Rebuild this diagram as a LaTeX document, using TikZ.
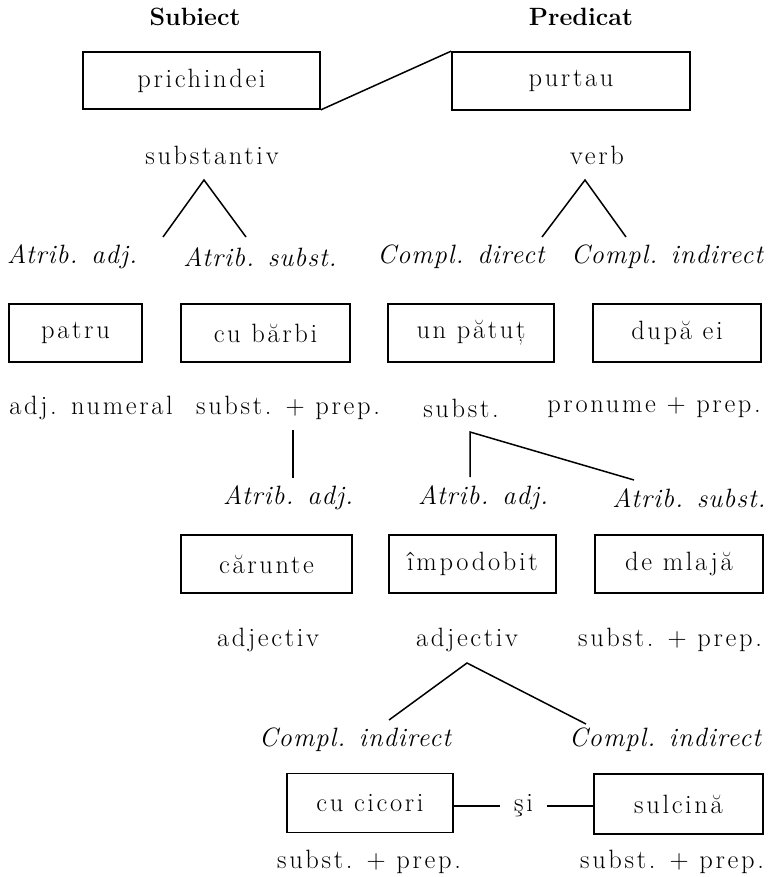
\documentclass[tikz,border=0pt]{standalone}
\usepackage{fontspec}
\setmainfont{Latin Modern Roman}[LetterSpace=10, ItalicFeatures={LetterSpace=4}, BoldFeatures={LetterSpace=0}]
\begin{document}
\begin{tikzpicture}[x=1pt,y=-1pt,
  font=\fontsize{26.5}{30}\selectfont,
  box/.style={draw, line width=1.7pt, inner sep=0pt},
  lbl/.style={inner sep=0pt},
  itl/.style={inner sep=0pt, font=\fontsize{26.5}{30}\selectfont\itshape},
  ttl/.style={inner sep=0pt, font=\fontsize{25}{29}\selectfont\bfseries},
  conn/.style={line width=1.5pt}]
\useasboundingbox (0,0) rectangle (772,877);

% titles
\node[ttl] (sub) at (195,17) {Subiect};
\node[ttl] (pred) at (581,17) {Predicat};

% level 1
\node[box, minimum width=237pt, minimum height=57pt] (prich) at (201.5,80.5) {prichindei};
\node[box, minimum width=238pt, minimum height=58pt] (purt) at (571,81) {purtau};
\draw[conn] (prich.south east) -- (purt.north west);
\node[lbl] (substantiv) at (212,155) {substantiv};
\node[lbl] (verb) at (597,155) {verb};

\coordinate (ap1) at (204,180);
\coordinate (e1a) at (163,237);
\coordinate (e1b) at (246,237);
\coordinate (ap2) at (585,180);
\coordinate (e2a) at (542,237);
\coordinate (e2b) at (626,237);
\draw[conn] (e1a) -- (ap1) -- (e1b);
\draw[conn] (e2a) -- (ap2) -- (e2b);

\node[itl] (r1a) at (72,257) {Atrib. adj.};
\node[itl] (r1b) at (260,257) {Atrib. subst.};
\node[itl] (r1c) at (461,257) {Compl. direct};
\node[itl] (r1d) at (667,257) {Compl. indirect};

% level 2 boxes
\node[box, minimum width=133pt, minimum height=58pt] (patru) at (75.5,333) {patru};
\node[box, minimum width=169pt, minimum height=58pt] (barbi) at (265.5,333) {cu bărbi};
\node[box, minimum width=166pt, minimum height=58pt] (patut) at (471,333) {un pătuț};
\node[box, minimum width=168pt, minimum height=58pt] (dupa) at (677,333) {după ei};

\node[lbl] (p2a) at (91,408) {adj. numeral};
\node[lbl] (p2b) at (288,408) {subst. + prep.};
\node[lbl] (p2c) at (461,408) {subst.};
\node[lbl] (p2d) at (654,408) {pronume + prep.};

\coordinate (v1t) at (293,430);
\coordinate (v1b) at (293,478);
\draw[conn] (v1t) -- (v1b);
\coordinate (ap3) at (470,432);
\coordinate (e3a) at (470,477);
\coordinate (e3b) at (634,480);
\draw[conn] (e3a) -- (ap3) -- (e3b);

\node[itl] (r2a) at (288,498) {Atrib. adj.};
\node[itl] (r2b) at (483,498) {Atrib. adj.};
\node[itl] (r2c) at (689,498) {Atrib. subst.};

% level 3 boxes
\node[box, minimum width=171pt, minimum height=58pt] (carunte) at (266.5,564) {cărunte};
\node[box, minimum width=167pt, minimum height=58pt] (impod) at (472.5,564) {împodobit};
\node[box, minimum width=168pt, minimum height=58pt] (mlaja) at (679,564) {de mlajă};

\node[lbl] (p3a) at (268,640) {adjectiv};
\node[lbl] (p3b) at (467,640) {adjectiv};
\node[lbl] (p3c) at (670,640) {subst. + prep.};

\coordinate (ap4) at (467,663);
\coordinate (e4a) at (389,720);
\coordinate (e4b) at (586,724);
\draw[conn] (e4a) -- (ap4) -- (e4b);

\node[itl] (r3a) at (355,740) {Compl. indirect};
\node[itl] (r3b) at (665,740) {Compl. indirect};

% level 4 boxes
\node[box, minimum width=166pt, minimum height=59pt] (cicori) at (370,803) {cu cicori};
\node[box, minimum width=169pt, minimum height=60pt] (sulc) at (678.5,804) {sulcină};
\node[lbl, minimum width=47pt] (si) at (523.5,806) {şi};
\draw[conn] (cicori.east |- si.west) -- (si.west);
\draw[conn] (si.east) -- (sulc.west |- si.east);

\node[lbl] (p4a) at (369,862) {subst. + prep.};
\node[lbl] (p4b) at (672,862) {subst. + prep.};
\end{tikzpicture}
\end{document}
